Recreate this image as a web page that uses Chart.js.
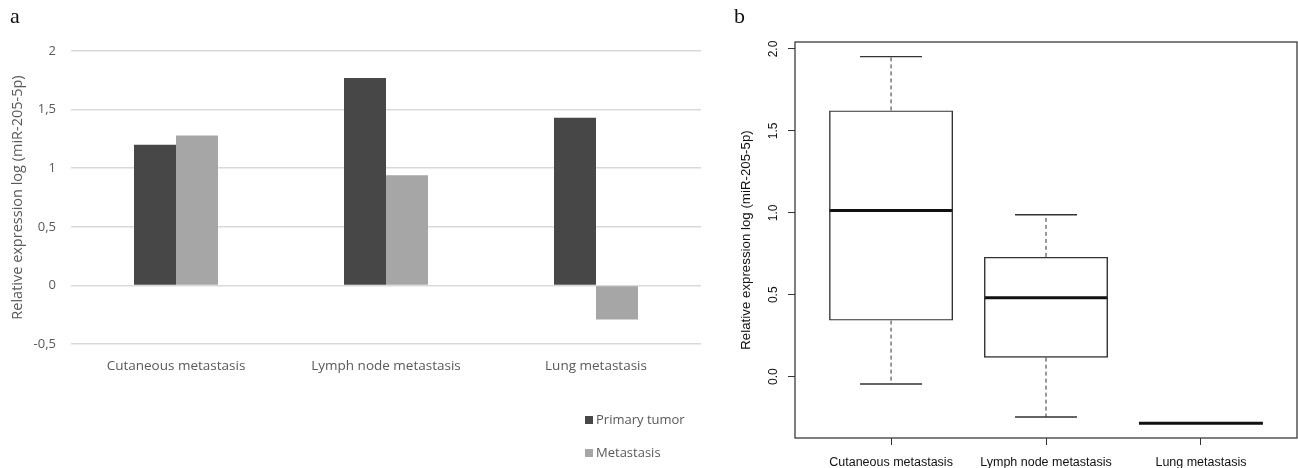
<!DOCTYPE html>
<html>
<head>
<meta charset="utf-8">
<style>
  body { margin: 0; background: #fff; width: 1298px; height: 468px; overflow: hidden; position: relative; }
  canvas { position: absolute; top: 0; }
  #barChart { left: 0; }
  #boxChart { left: 720px; }
</style>
</head>
<body>
<canvas id="barChart" width="720" height="468"></canvas>
<canvas id="boxChart" width="578" height="468"></canvas>
<script src="https://cdn.jsdelivr.net/npm/chart.js"></script>
<script>
// panel a: grouped bars
const barCategories = ['Cutaneous metastasis', 'Lymph node metastasis', 'Lung metastasis'];
const primaryTumor = [1.20, 1.77, 1.43];
const metastasis = [1.28, 0.94, -0.29];
const barTicks = [-0.5, 0, 0.5, 1, 1.5, 2];

// panel b: box plot summary (whisker low, Q1, median, Q3, whisker high)
const boxCategories = ['Cutaneous metastasis', 'Lymph node metastasis', 'Lung metastasis'];
const whiskerLow = [-0.045, -0.246, -0.285];
const quartile1 = [0.342, 0.116, -0.285];
const medians = [1.014, 0.481, -0.285];
const quartile3 = [1.625, 0.731, -0.285];
const whiskerHigh = [1.953, 0.988, -0.285];
const boxTicks = [0, 0.5, 1, 1.5, 2];

const yTitle = 'Relative expression log (miR-205-5p)';
const greyText = '#595959';
const openSans = (size) => ({ family: '"Open Sans", "Noto Sans", sans-serif', size: size });
const arial = (size) => ({ family: '"Liberation Sans", Arial, sans-serif', size: size });

const panelLetter = (text, x, y) => ({
  id: 'panelLetter',
  afterDraw(chart) {
    const ctx = chart.ctx;
    ctx.save();
    ctx.font = '22px "Liberation Serif", "DejaVu Serif", serif';
    ctx.fillStyle = '#111';
    ctx.textBaseline = 'alphabetic';
    ctx.fillText(text, x, y);
    ctx.restore();
  }
});

// legend stacked under the plot, bottom right
const stackedLegend = {
  id: 'stackedLegend',
  afterDraw(chart) {
    const { ctx, chartArea } = chart;
    ctx.save();
    ctx.font = '13px "Open Sans", "Noto Sans", sans-serif';
    ctx.textBaseline = 'middle';
    chart.data.datasets.forEach((ds, i) => {
      const x = chartArea.right - 116;
      const y = chartArea.bottom + 76 + i * 33;
      ctx.fillStyle = ds.backgroundColor;
      ctx.fillRect(x, y - 4, 8, 8);
      ctx.fillStyle = greyText;
      ctx.fillText(ds.label, x + 11, y);
    });
    ctx.restore();
  }
};

new Chart(document.getElementById('barChart'), {
  type: 'bar',
  data: {
    labels: barCategories,
    datasets: [
      { label: 'Primary tumor', data: primaryTumor, backgroundColor: '#474747' },
      { label: 'Metastasis', data: metastasis, backgroundColor: '#a6a6a6' }
    ]
  },
  options: {
    responsive: false,
    animation: false,
    categoryPercentage: 0.4,
    barPercentage: 1.0,
    layout: { padding: { top: 51, right: 19, left: 0, bottom: 0 } },
    plugins: { legend: { display: false }, tooltip: { enabled: false } },
    scales: {
      x: {
        grid: { display: false, drawTicks: false },
        border: { display: false },
        ticks: { font: openSans(13.5), color: greyText, padding: 14 },
        afterFit: (s) => { s.height = 124; }
      },
      y: {
        min: barTicks[0],
        max: barTicks[barTicks.length - 1],
        afterBuildTicks: (s) => { s.ticks = barTicks.map(v => ({ value: v })); },
        ticks: { callback: (v) => String(v).replace('.', ','), font: openSans(13), color: greyText, padding: 15 },
        grid: { color: '#d9d9d9', lineWidth: 1.5, drawTicks: false },
        border: { display: false },
        title: { display: true, text: yTitle, font: openSans(14.5), color: greyText, padding: { top: 9, bottom: 0 } },
        afterFit: (s) => { s.width = 71; }
      }
    }
  },
  plugins: [stackedLegend, panelLetter('a', 10, 23)]
});

// R style range: data range padded by 4 %
const lo = Math.min(...whiskerLow);
const hi = Math.max(...whiskerHigh);
const pad = 0.04 * (hi - lo);

const segments = (fn) => boxCategories.flatMap((c, i) => {
  const pts = fn(i, i + 1);
  return pts.length ? [...pts, { x: i + 1, y: null }] : [];
});
const hasWhiskers = (i) => !(whiskerHigh[i] === quartile3[i] && whiskerLow[i] === quartile1[i]);
const boxData = boxCategories.map((c, i) => ({ x: i + 1, y: [quartile1[i], quartile3[i]] }));
const medianData = segments((i, x) => [{ x: x - 0.4, y: medians[i] }, { x: x + 0.4, y: medians[i] }]);
const whiskerData = segments((i, x) => !hasWhiskers(i) ? [] :
  [{ x: x, y: quartile3[i] }, { x: x, y: whiskerHigh[i] }, { x: x, y: null }, { x: x, y: quartile1[i] }, { x: x, y: whiskerLow[i] }]);
const capData = segments((i, x) => !hasWhiskers(i) ? [] :
  [{ x: x - 0.2, y: whiskerHigh[i] }, { x: x + 0.2, y: whiskerHigh[i] }, { x: x, y: null }, { x: x - 0.2, y: whiskerLow[i] }, { x: x + 0.2, y: whiskerLow[i] }]);

const lineStyle = { type: 'line', pointRadius: 0, fill: false, tension: 0, spanGaps: false, borderCapStyle: 'butt' };

const frame = {
  id: 'frame',
  afterDatasetsDraw(chart) {
    const { ctx, chartArea: a } = chart;
    ctx.save();
    ctx.strokeStyle = '#3a3a3a';
    ctx.lineWidth = 1.3;
    ctx.strokeRect(a.left, a.top, a.right - a.left, a.bottom - a.top);
    ctx.restore();
  }
};

new Chart(document.getElementById('boxChart'), {
  type: 'bar',
  data: {
    datasets: [
      { data: boxData, backgroundColor: 'rgba(255,255,255,0)', borderColor: '#333', borderWidth: 1.4, borderSkipped: false, barPercentage: 0.8, categoryPercentage: 1 },
      { ...lineStyle, data: whiskerData, borderColor: '#333', borderWidth: 1, borderDash: [4, 3] },
      { ...lineStyle, data: capData, borderColor: '#333', borderWidth: 1.4 },
      { ...lineStyle, data: medianData, borderColor: '#111', borderWidth: 3 }
    ]
  },
  options: {
    responsive: false,
    animation: false,
    layout: { padding: { top: 42, right: 1, left: 0, bottom: 0 } },
    plugins: { legend: { display: false }, tooltip: { enabled: false } },
    scales: {
      x: {
        type: 'linear',
        offset: false,
        min: 0.38,
        max: boxCategories.length + 0.62,
        afterBuildTicks: (s) => { s.ticks = boxCategories.map((c, i) => ({ value: i + 1 })); },
        ticks: { callback: (v) => boxCategories[v - 1], autoSkip: false, maxRotation: 0, padding: 10, font: arial(12.5), color: '#111' },
        grid: { drawOnChartArea: false, tickLength: 7, color: '#333', lineWidth: 1, offset: false },
        border: { display: false },
        afterFit: (s) => { s.height = 30; }
      },
      y: {
        min: lo - pad,
        max: hi + pad,
        afterBuildTicks: (s) => { s.ticks = boxTicks.map(v => ({ value: v })); },
        ticks: { callback: (v) => v.toFixed(1), minRotation: 90, maxRotation: 90, crossAlign: 'center', padding: 6, font: arial(12), color: '#111' },
        grid: { drawOnChartArea: false, tickLength: 7, color: '#333', lineWidth: 1 },
        border: { display: false },
        title: { display: true, text: yTitle, font: arial(13.3), color: '#111', padding: { top: 18, bottom: 0 } },
        afterFit: (s) => { s.width = 75; }
      }
    }
  },
  plugins: [frame, panelLetter('b', 14, 23)]
});
</script>
</body>
</html>
